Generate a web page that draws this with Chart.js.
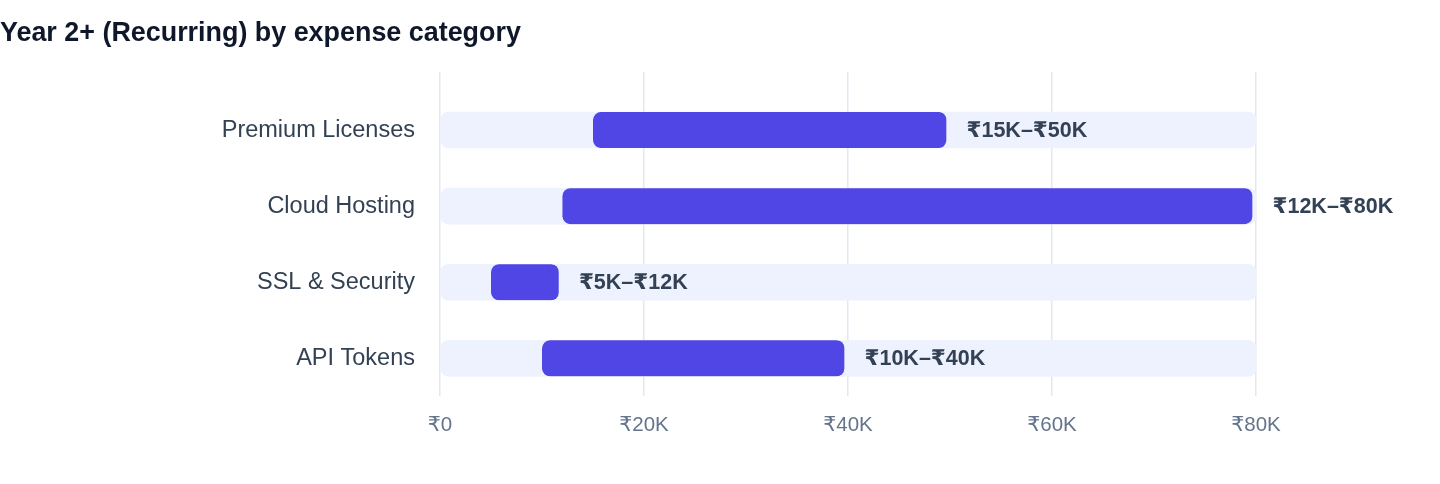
<!DOCTYPE html>
<html>
<head>
<meta charset="utf-8">
<style>
  html, body { margin: 0; padding: 0; background: #ffffff; }
  #wrap { position: relative; width: 1440px; height: 484px; }
</style>
<script src="https://cdn.jsdelivr.net/npm/chart.js@4.4.1/dist/chart.umd.min.js"></script>
</head>
<body>
<div id="wrap"><canvas id="c"></canvas></div>
<script>
const categories = ['Premium Licenses', 'Cloud Hosting', 'SSL & Security', 'API Tokens'];
const lowValues = [15000, 12000, 5000, 10000];
const highValues = [50000, 80000, 12000, 40000];
const trackMax = 80000;
const xTickValues = [0, 20000, 40000, 60000, 80000];
const xTickLabels = ['₹0', '₹20K', '₹40K', '₹60K', '₹80K'];
const rangeLabels = ['₹15K–₹50K', '₹12K–₹80K', '₹5K–₹12K', '₹10K–₹40K'];

const FONT = '"Liberation Sans", Arial, Helvetica, "DejaVu Sans", sans-serif';

const rangeData = categories.map((c, i) => [lowValues[i], highValues[i]]);
const trackData = categories.map(() => [0, trackMax]);

const labelPlugin = {
  id: 'rangeLabels',
  afterDatasetsDraw(chart) {
    const ctx = chart.ctx;
    const meta = chart.getDatasetMeta(0);
    const xs = chart.scales.x;
    ctx.save();
    ctx.font = 'bold 21.5px ' + FONT;
    ctx.fillStyle = '#334155';
    ctx.textAlign = 'left';
    ctx.textBaseline = 'middle';
    meta.data.forEach((bar, i) => {
      const x = xs.getPixelForValue(highValues[i]) + 16.5;
      ctx.fillText(rangeLabels[i], x, bar.y + 1);
    });
    ctx.restore();
  }
};

new Chart(document.getElementById('c'), {
  type: 'bar',
  data: {
    labels: categories,
    datasets: [
      {
        label: 'Range',
        data: rangeData,
        backgroundColor: '#4f46e5',
        borderColor: 'rgba(0,0,0,0)',
        borderWidth: { top: 0, right: 4, bottom: 0, left: 0 },
        borderSkipped: false,
        borderRadius: { topLeft: 8, bottomLeft: 8, topRight: 12, bottomRight: 12 },
        barThickness: 36,
        grouped: false
      },
      {
        label: 'Track',
        data: trackData,
        backgroundColor: '#eef2ff',
        borderWidth: 0,
        borderSkipped: false,
        borderRadius: 8,
        barThickness: 36,
        grouped: false
      }
    ]
  },
  options: {
    indexAxis: 'y',
    responsive: true,
    maintainAspectRatio: false,
    animation: false,
    layout: { padding: { left: 0, right: 184, top: 0, bottom: 29 } },
    plugins: {
      legend: { display: false },
      tooltip: { enabled: false },
      title: {
        display: true,
        text: 'Year 2+ (Recurring) by expense category',
        align: 'start',
        color: '#0f172a',
        font: { family: FONT, size: 26.9, weight: 'bold' },
        padding: { top: 17.0, bottom: 22.7 }
      }
    },
    scales: {
      x: {
        type: 'linear',
        position: 'bottom',
        min: 0,
        max: trackMax,
        afterBuildTicks(scale) { scale.ticks = xTickValues.map(v => ({ value: v })); },
        ticks: {
          padding: 17,
          color: '#64748b',
          font: { family: FONT, size: 20.5 },
          callback: (v, i) => xTickLabels[i]
        },
        grid: { color: '#e2e8f0', lineWidth: 1.5, drawTicks: false },
        border: { display: false }
      },
      x2: {
        type: 'linear',
        position: 'top',
        min: 0,
        max: trackMax,
        afterBuildTicks(scale) { scale.ticks = xTickValues.map(v => ({ value: v })); },
        ticks: { display: false },
        grid: { color: '#e2e8f0', lineWidth: 1.5, drawOnChartArea: false, drawTicks: true, tickLength: 20 },
        border: { display: false }
      },
      y: {
        position: 'left',
        afterFit(scale) { scale.width = 440; },
        ticks: {
          padding: 17,
          color: '#334155',
          font: { family: FONT, size: 23.5 }
        },
        grid: { display: false },
        border: { display: false }
      }
    }
  },
  plugins: [labelPlugin]
});
</script>
</body>
</html>
